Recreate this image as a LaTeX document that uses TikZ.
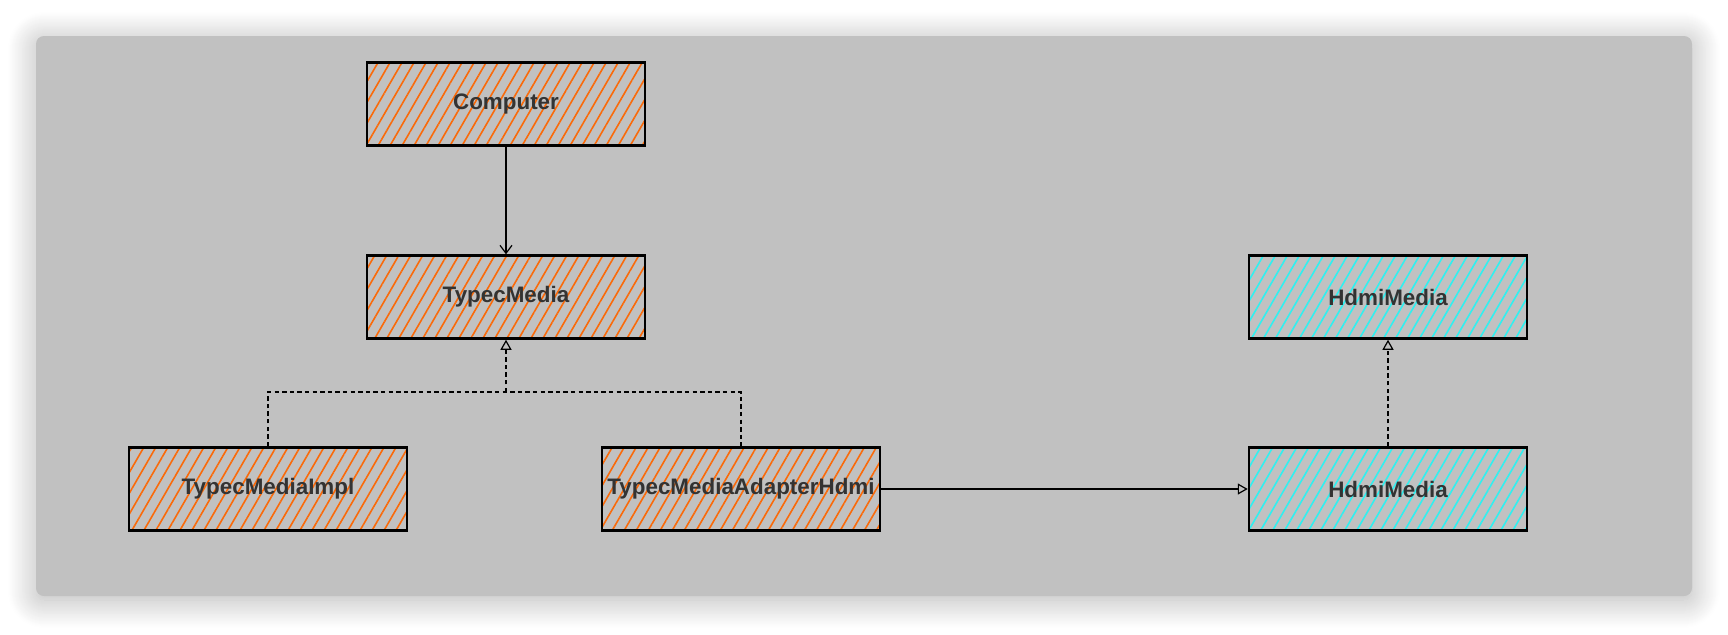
\documentclass[tikz,border=0pt]{standalone}
\usepackage{fontspec}
\setmainfont{Liberation Sans}
\usepackage{tikz}
\usetikzlibrary{positioning,arrows.meta,patterns.meta,shadows.blur}
\usepackage{xcolor}
\definecolor{panelgray}{HTML}{C1C1C1}
\definecolor{hatchorange}{HTML}{FA6A0A}
\definecolor{hatchcyan}{HTML}{30F0F0}
\definecolor{labelgray}{HTML}{333333}

\tikzset{
  classbox/.style={draw=black,line width=1.25pt,minimum width=139pt,minimum height=41.5pt,inner xsep=0pt,
    font=\fontsize{11.2}{13}\selectfont\bfseries,text=labelgray,
    pattern={Lines[angle=60,distance=5.2pt,line width=0.8pt]}},
  typec/.style={classbox,pattern color=hatchorange},
  hdmi/.style={classbox,pattern color=hatchcyan},
  assoc/.style={line width=0.6pt,-{Straight Barb[length=4pt,width=6pt]}},
  realize/.style={line width=0.6pt,dash pattern=on 2.2pt off 1.6pt},
  opentri/.style={-{Triangle[open,length=5pt,width=5.5pt]}}
}

\begin{document}
\begin{tikzpicture}[x=0.5pt,y=-0.5pt]
\useasboundingbox (0,0) rectangle (1728,634);
\fill[panelgray,rounded corners=4pt,blur shadow={shadow xshift=0pt,shadow yshift=-2pt,shadow blur radius=14pt,shadow blur steps=30,shadow opacity=30}] (36,36) rectangle (1692,596);

\node[typec] (computer) at (506,104) {Computer};
\node[typec] (typec) at (506,297) {TypecMedia};
\node[typec] (impl) at (268,489) {TypecMediaImpl};
\node[typec] (adapter) at (741,489) {TypecMediaAdapterHdmi};
\node[hdmi] (hdmitop) at (1388,297) {HdmiMedia};
\node[hdmi] (hdmibot) at (1388,489) {HdmiMedia};

\coordinate (fork) at (506,392);
\draw[assoc] (computer) -- (typec);
\draw[realize] (impl.north) |- (fork) -| (adapter.north);
\draw[realize,opentri] (fork) -- (typec.south);
\draw[line width=0.6pt,opentri] (adapter.east) -- (hdmibot.west);
\draw[realize,opentri] (hdmibot) -- (hdmitop);
\end{tikzpicture}
\end{document}
